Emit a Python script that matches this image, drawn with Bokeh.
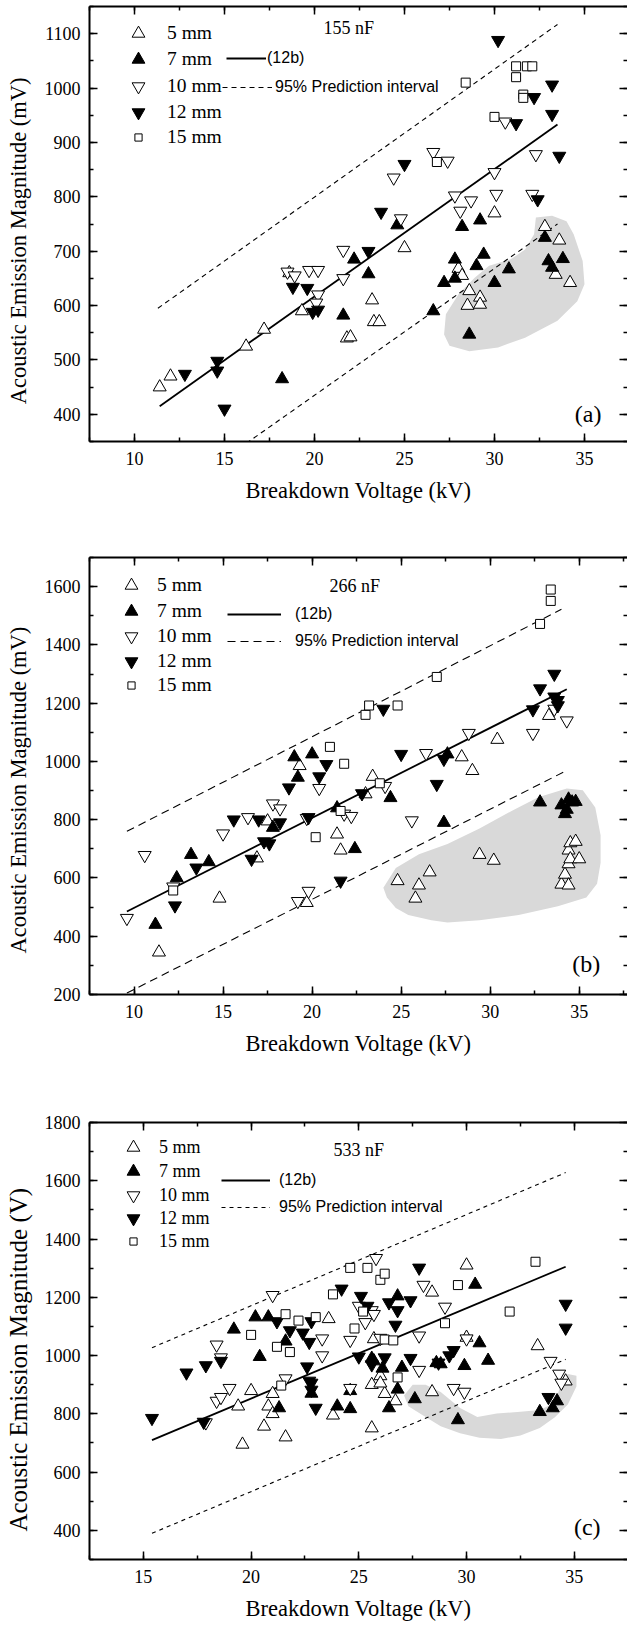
from bokeh.plotting import figure
from bokeh.models import Range1d, LinearAxis, SingleIntervalTicker, Legend, LegendItem, Label
from bokeh.layouts import column
from bokeh.embed import file_html
from bokeh.resources import INLINE

SERIF = "Liberation Serif"
SANS = "Liberation Sans"
NB = "\u00a0"

# ---------------- panel (a): 155 nF ----------------
a5_x = [11.4, 12.0, 16.2, 17.2, 18.6, 19.3, 21.8, 22.0, 23.2, 23.3, 23.6, 25.0, 28.0, 28.2, 28.6, 28.5, 29.2, 29.2, 30.0, 32.8, 33.6, 33.4, 34.2]
a5_y = [450, 470, 525, 556, 660, 590, 540, 542, 610, 570, 570, 706, 668, 655, 627, 600, 615, 602, 770, 745, 720, 657, 642]
a7_x = [18.2, 21.6, 22.2, 23.0, 24.6, 26.6, 27.2, 27.8, 27.8, 28.2, 28.6, 29.0, 29.2, 29.4, 30.0, 30.8, 32.8, 33.0, 33.2, 33.8]
a7_y = [465, 582, 685, 658, 748, 590, 642, 685, 650, 745, 547, 673, 757, 694, 642, 667, 725, 682, 670, 686]
a10_x = [18.5, 18.9, 19.7, 20.2, 20.2, 20.1, 21.6, 21.6, 24.4, 24.8, 26.6, 27.4, 27.8, 28.1, 28.7, 30.0, 30.1, 30.6, 32.3, 32.1]
a10_y = [662, 655, 665, 665, 620, 605, 702, 650, 835, 760, 882, 866, 802, 774, 793, 845, 805, 938, 878, 805]
a12_x = [12.8, 14.6, 14.6, 15.0, 18.8, 19.6, 19.9, 20.2, 23.7, 23.0, 25.0, 30.2, 31.2, 32.2, 33.2, 33.2, 33.6, 32.4]
a12_y = [474, 498, 480, 410, 634, 632, 588, 592, 772, 700, 860, 1088, 935, 983, 1006, 952, 875, 795]
a15_x = [26.8, 28.4, 30.0, 31.2, 31.2, 31.8, 32.1, 31.6, 31.6]
a15_y = [864, 1010, 947, 1040, 1020, 1040, 1040, 988, 982]
a_fit_x = [11.4, 33.5]
a_fit_y = [415, 933]
a_up_x = [11.3, 33.5]
a_up_y = [595, 1117]
a_lo_x = [11.3, 33.5]
a_lo_y = [232, 750]
a_blob_x = [27.2, 27.5, 28.6, 30.2, 31.7, 33.5, 34.6, 35.0, 34.9, 34.4, 34.0, 33.2, 32.3, 32.2, 31.7, 30.9, 29.7, 28.9, 28.0, 27.3]
a_blob_y = [547, 526, 516, 523, 541, 572, 608, 639, 682, 731, 755, 765, 762, 731, 703, 685, 673, 651, 621, 584]

# ---------------- panel (b): 266 nF ----------------
b5_x = [11.4, 14.8, 16.9, 17.5, 19.3, 19.7, 21.4, 21.6, 23.0, 23.4, 24.8, 26.0, 25.8, 26.6, 28.4, 29.0, 29.4, 30.2, 30.4, 33.3, 34.0, 34.2, 34.4, 34.5, 34.8, 34.4, 34.5, 35.0, 34.4]
b5_y = [345, 530, 668, 795, 985, 515, 750, 695, 888, 948, 590, 575, 530, 620, 1015, 968, 680, 660, 1075, 1157, 578, 612, 695, 720, 725, 648, 665, 665, 575]
b7_x = [11.2, 12.4, 13.2, 14.2, 17.8, 19.0, 19.2, 20.0, 21.4, 22.4, 24.4, 27.4, 27.6, 32.8, 34.0, 34.2, 34.4, 34.6, 34.8, 34.3]
b7_y = [440, 600, 680, 655, 773, 1015, 945, 1025, 840, 700, 875, 790, 1025, 860, 850, 820, 870, 860, 862, 835]
b10_x = [9.6, 10.6, 12.2, 15.0, 16.4, 17.8, 18.2, 19.7, 20.4, 19.2, 19.8, 21.8, 22.2, 24.1, 25.6, 26.4, 28.8, 32.4, 33.6, 34.3]
b10_y = [462, 678, 570, 752, 808, 855, 838, 805, 908, 520, 555, 820, 812, 915, 797, 1028, 1097, 1097, 1180, 1140]
b12_x = [12.3, 13.5, 15.6, 17.0, 16.6, 17.3, 17.6, 18.2, 18.7, 19.8, 20.4, 20.8, 21.6, 22.8, 24.0, 25.0, 27.0, 27.4, 32.4, 32.8, 33.6, 33.6, 33.8, 33.8]
b12_y = [505, 635, 800, 800, 665, 725, 718, 790, 910, 808, 948, 990, 590, 890, 1180, 1025, 922, 1008, 1178, 1250, 1300, 1222, 1210, 1192]
b15_x = [12.2, 20.2, 21.0, 21.8, 21.6, 23.0, 23.2, 24.8, 23.8, 27.0, 32.8, 33.4, 33.4]
b15_y = [557, 740, 1050, 992, 830, 1160, 1192, 1192, 925, 1290, 1472, 1551, 1590]
b_fit_x = [9.6, 34.3]
b_fit_y = [485, 1248]
b_up_x = [9.6, 34.0]
b_up_y = [760, 1522]
b_lo_x = [9.6, 34.3]
b_lo_y = [205, 969]
b_blob_x = [24.0, 24.7, 26.0, 27.6, 29.4, 31.2, 32.7, 34.3, 35.2, 35.9, 36.2, 36.2, 36.0, 35.4, 33.8, 31.6, 29.4, 27.6, 26.7, 25.4, 24.7, 24.2]
b_blob_y = [566, 634, 681, 717, 770, 830, 877, 907, 901, 842, 747, 652, 580, 533, 503, 473, 455, 447, 455, 473, 497, 533]

# ---------------- panel (c): 533 nF ----------------
c5_x = [19.4, 20.0, 19.6, 20.6, 21.0, 20.8, 21.0, 21.6, 23.6, 23.8, 25.6, 25.6, 26.0, 26.2, 26.7, 28.4, 28.4, 30.0, 30.0, 33.3, 34.6, 26.0, 25.7]
c5_y = [826, 879, 695, 757, 869, 826, 800, 720, 1126, 795, 751, 900, 930, 869, 844, 875, 1217, 1310, 1062, 1033, 912, 905, 1057]
c7_x = [19.2, 20.2, 20.4, 20.8, 21.6, 21.3, 24.0, 24.6, 24.6, 25.7, 26.1, 26.4, 26.8, 26.8, 27.0, 27.6, 28.6, 28.8, 29.6, 29.9, 30.4, 30.6, 31.0, 33.4, 34.0, 34.2, 25.6, 22.8]
c7_y = [1090, 1132, 996, 1132, 1049, 820, 826, 879, 817, 981, 956, 820, 1204, 884, 959, 851, 975, 971, 779, 965, 1244, 1043, 983, 807, 820, 844, 990, 870]
c10_x = [17.9, 18.4, 18.4, 18.6, 18.6, 19.0, 21.0, 21.6, 23.3, 23.3, 24.6, 24.6, 25.0, 25.3, 25.6, 25.8, 25.7, 28.0, 27.8, 27.8, 29.0, 29.4, 29.9, 30.0, 33.9, 34.3, 34.4, 26.0]
c10_y = [770, 844, 1037, 993, 857, 888, 1207, 921, 1058, 1000, 1053, 888, 1170, 1114, 1155, 1334, 1142, 1242, 950, 1068, 1167, 888, 875, 1058, 981, 937, 906, 1060]
c12_x = [15.4, 17.0, 17.9, 17.8, 18.6, 21.2, 21.8, 22.4, 22.8, 22.7, 22.6, 22.7, 22.8, 22.8, 23.0, 24.2, 25.0, 25.1, 25.4, 25.6, 26.2, 26.4, 26.7, 26.8, 27.4, 27.4, 27.8, 28.7, 29.2, 29.4, 33.8, 34.6, 34.6]
c12_y = [785, 941, 966, 772, 981, 1117, 1086, 1078, 1117, 1046, 962, 913, 906, 882, 820, 1229, 996, 1204, 1170, 969, 993, 1182, 1105, 1155, 991, 1189, 1301, 975, 1000, 1018, 857, 1177, 1095]
c15_x = [20.0, 21.2, 21.6, 21.8, 21.4, 22.2, 23.0, 23.8, 24.6, 24.8, 25.2, 25.4, 26.0, 26.2, 26.2, 26.6, 26.8, 29.0, 29.6, 32.0, 33.2]
c15_y = [1071, 1030, 1142, 1012, 897, 1120, 1132, 1210, 1301, 1093, 1151, 1301, 1260, 1281, 1055, 1052, 925, 1111, 1242, 1151, 1322]
c_fit_x = [15.4, 34.6]
c_fit_y = [710, 1305]
c_up_x = [15.4, 34.6]
c_up_y = [1027, 1628]
c_lo_x = [15.4, 34.6]
c_lo_y = [390, 987]
c_blob_x = [27.1, 27.3, 28.1, 28.8, 29.7, 30.6, 31.6, 32.5, 33.4, 34.1, 34.7, 35.1, 35.1, 34.7, 34.4, 34.1, 33.4, 32.5, 31.4, 30.5, 29.7, 28.8, 28.1, 27.5]
c_blob_y = [863, 826, 789, 757, 733, 718, 714, 726, 751, 788, 832, 894, 931, 937, 906, 838, 813, 807, 801, 789, 820, 875, 900, 900]

legend_labels = ["5 mm", "7 mm", "10 mm", "12 mm", "15 mm"]
markers = ["triangle", "triangle", "inverted_triangle", "inverted_triangle", "square"]
filled = [False, True, False, True, False]


def style_axis(ax, step, show, title=None, std=10, tstd=8, tsize="22.5px"):
    ax.ticker = SingleIntervalTicker(interval=step, num_minor_ticks=2)
    ax.axis_line_width = 2
    ax.axis_line_color = "black"
    ax.major_tick_in = 8
    ax.major_tick_out = 0
    ax.minor_tick_in = 4
    ax.minor_tick_out = 0
    ax.major_tick_line_width = 1.5
    ax.minor_tick_line_width = 1.5
    ax.major_tick_line_color = "black"
    ax.minor_tick_line_color = "black"
    if show:
        ax.major_label_text_font = SERIF
        ax.major_label_text_font_size = "18px"
        ax.major_label_text_color = "black"
        ax.major_label_standoff = std
        ax.axis_label = title
        ax.axis_label_text_font = SERIF
        ax.axis_label_text_font_size = tsize
        ax.axis_label_text_font_style = "normal"
        ax.axis_label_text_color = "black"
        ax.axis_label_standoff = tstd
    else:
        ax.major_label_text_font_size = "0px"
        ax.major_label_text_color = None
        ax.major_label_standoff = 0
        ax.axis_label = None


def key(p, r, text, left, cy, gw, gh, text_x, fl, fb, font, size):
    p.add_layout(Legend(
        items=[LegendItem(label=text, renderers=[r])],
        location=(left - fl, fb - cy - gh / 2), orientation="vertical",
        padding=0, margin=0, spacing=0, glyph_width=gw, glyph_height=gh,
        label_standoff=int(round(text_x - left - gw)), label_height=10, label_width=10,
        label_text_font=font, label_text_font_size=size, label_text_color="black",
        border_line_color=None, background_fill_alpha=0))


def build(page_top, h, top, bottom, left, xr, yr, ystep, ylabel, ysize, data, fit, up, lo,
          blob, dash, mk_cx, mk_rows, text_x, mk_font, ln_left, ln_w, ln_rows, ln_text_x,
          note_xy, note, tag_xy, tag, ytstd):
    fl = left
    fb = page_top + h - bottom
    p = figure(width=627, height=h, x_range=Range1d(*xr), y_range=Range1d(*yr),
               output_backend="svg", toolbar_location=None,
               min_border_left=left, min_border_right=0, min_border_top=top,
               min_border_bottom=bottom)
    p.outline_line_color = None
    p.background_fill_color = "white"
    p.border_fill_color = "white"
    p.xgrid.visible = False
    p.ygrid.visible = False
    style_axis(p.xaxis[0], 5, True, "Breakdown Voltage (kV)", 10, 10)
    style_axis(p.yaxis[0], ystep, True, ylabel, 9, ytstd, ysize)
    top_ax = LinearAxis()
    style_axis(top_ax, 5, False)
    p.add_layout(top_ax, "above")
    right_ax = LinearAxis()
    style_axis(right_ax, ystep, False)
    right_ax.axis_line_color = None
    p.add_layout(right_ax, "right")

    p.patch(blob[0], blob[1], fill_color="#d9d9d9", line_color=None)
    r_fit = p.line(fit[0], fit[1], line_color="black", line_width=1.8)
    r_up = p.line(up[0], up[1], line_color="black", line_width=1.1, line_dash=dash)
    p.line(lo[0], lo[1], line_color="black", line_width=1.1, line_dash=dash)

    rs = []
    for (xs, ys), mk, fill in zip(data, markers, filled):
        size = 9 if mk == "square" else 13
        r = p.scatter(xs, ys, marker=mk, size=size,
                      fill_color="black" if fill else "white",
                      line_color="black", line_width=1)
        rs.append(r)

    for r, lab, mk, cy in zip(rs, legend_labels, markers, mk_rows):
        if mk == "square":
            gw, gh = 18, 24
        else:
            gw, gh = 32, 32
        key(p, r, lab, mk_cx - gw / 2, cy, gw, gh, text_x, fl, fb, SERIF, mk_font)

    key(p, r_fit, "(12b)", ln_left[0], ln_rows[0], ln_w[0], 20, ln_text_x[0], fl, fb, SANS, "16px")
    key(p, r_up, "95% Prediction interval", ln_left[1], ln_rows[1], ln_w[1], 20, ln_text_x[1], fl, fb, SANS, "16px")

    p.add_layout(Label(x=note_xy[0], y=note_xy[1], text=note, text_font=SERIF,
                       text_font_size="18px", text_align="center", text_baseline="middle",
                       text_color="black"))
    p.add_layout(Label(x=tag_xy[0], y=tag_xy[1], text=tag, text_font=SERIF,
                       text_font_size="24px", text_align="center", text_baseline="middle",
                       text_color="black"))
    return p


pa = build(0, 515, 6, 74, 89, (7.5, 37.39), (350, 1150), 100,
           "Acoustic Emission Magnitude (mV)" + NB * 6, "22.5px",
           [(a5_x, a5_y), (a7_x, a7_y), (a10_x, a10_y), (a12_x, a12_y), (a15_x, a15_y)],
           (a_fit_x, a_fit_y), (a_up_x, a_up_y), (a_lo_x, a_lo_y), (a_blob_x, a_blob_y),
           "5 4", 138, [33, 59, 86, 112, 137], 167, "19.5px",
           [226, 222], [40, 50], [58, 87], [267, 275],
           (21.9, 1110), "155 nF", (35.2, 400), "(a)", 11)

pb = build(515, 545, 42, 66, 88, (7.5, 37.71), (200, 1700), 200,
           "Acoustic Emission Magnitude (mV)" + NB * 5, "22.5px",
           [(b5_x, b5_y), (b7_x, b7_y), (b10_x, b10_y), (b12_x, b12_y), (b15_x, b15_y)],
           (b_fit_x, b_fit_y), (b_up_x, b_up_y), (b_lo_x, b_lo_y), (b_blob_x, b_blob_y),
           "8 5", 130, [585, 611, 636, 661, 685], 156, "19.5px",
           [226, 226], [54, 54], [614, 641], [294, 294],
           (22.4, 1602), "266 nF", (35.4, 305), "(b)", 11)

pc = build(1060, 567, 62, 68, 86, (12.5, 37.47), (300, 1800), 200,
           "Acoustic Emission Magnitude (V)" + NB * 6, "25px",
           [(c5_x, c5_y), (c7_x, c7_y), (c10_x, c10_y), (c12_x, c12_y), (c15_x, c15_y)],
           (c_fit_x, c_fit_y), (c_up_x, c_up_y), (c_lo_x, c_lo_y), (c_blob_x, c_blob_y),
           "4 4", 130, [1147, 1171, 1195, 1218, 1241], 156, "18px",
           [218, 218], [49, 49], [1180, 1207], [276, 276],
           (25.0, 1707), "533 nF", (35.6, 410), "(c)", 10)

layout = column(pa, pb, pc)
open("out.html", "w").write(file_html(layout, INLINE))
